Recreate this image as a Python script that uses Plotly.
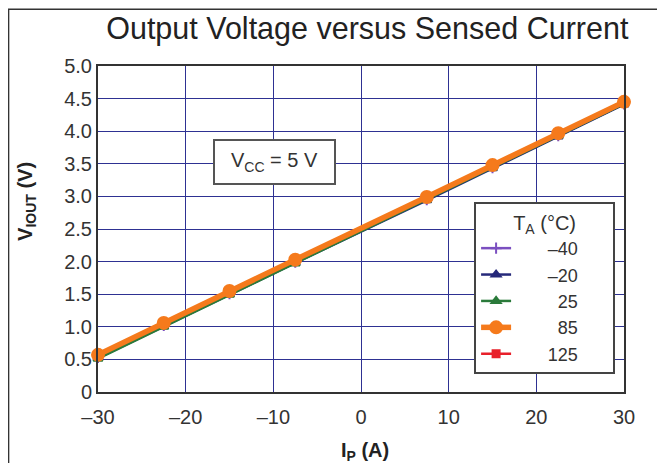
import plotly.graph_objects as go

current_a = [-30, -22.5, -15, -7.5, 7.5, 15, 22.5, 30]
temps_label = ["–40", "–20", "\u200725", "\u200785", "125"]
v_m40 = [0.53, 1.02, 1.51, 1.99, 2.95, 3.44, 3.93, 4.42]
v_m20 = [0.52, 1.01, 1.50, 1.98, 2.94, 3.43, 3.92, 4.41]
v_25 = [0.51, 1.00, 1.49, 1.97, 2.95, 3.44, 3.93, 4.42]
v_85 = [0.57, 1.06, 1.55, 2.03, 2.99, 3.48, 3.97, 4.45]
v_125 = [0.57, 1.06, 1.55, 2.03, 2.99, 3.48, 3.97, 4.45]

x_ticks = [-30, -20, -10, 0, 10, 20, 30]
x_ticktext = ["–30", "–20", "–10", "0", "10", "20", "30"]
y_ticks = [0, 0.5, 1, 1.5, 2, 2.5, 3, 3.5, 4, 4.5, 5]
y_ticktext = ["0", "0.5", "1.0", "1.5", "2.0", "2.5", "3.0", "3.5", "4.0", "4.5", "5.0"]

FONT = "Liberation Sans, Arial, sans-serif"
TXT = "#333333"
PAD_L = "\u2007\u2007\u2007\u200a"
PAD_R = "\u2007\u2007\u2007"

fig = go.Figure()

series = [
    # (values, label, color, symbol, size, width, rank)
    (v_125, temps_label[4], "#e8202a", "square", 7, 2.5, 5),
    (v_m40, temps_label[0], "#7b4fc0", "cross-thin", 8, 2.5, 1),
    (v_m20, temps_label[1], "#26297a", "triangle-up", 8, 2.5, 2),
    (v_25, temps_label[2], "#2a7a3a", "triangle-up", 8, 2.5, 3),
    (v_85, temps_label[3], "#f57a1c", "circle", 12, 5.5, 4),
]
for vals, label, color, sym, size, width, rank in series:
    fig.add_trace(go.Scatter(
        x=current_a, y=vals, name=PAD_L + label + PAD_R, mode="lines+markers",
        line=dict(color=color, width=width),
        marker=dict(symbol=sym, size=size, color=color,
                    line=dict(color=color, width=2)),
        cliponaxis=False, legendrank=rank,
    ))

fig.add_annotation(
    x=-9.87, y=3.53, xref="x", yref="y",
    text="V<sub>CC</sub> = 5 V", showarrow=False,
    font=dict(family=FONT, size=20, color=TXT),
    bordercolor="#555555", borderwidth=2, borderpad=0,
    bgcolor="white", width=119, height=42,
)

# axis titles
fig.add_annotation(
    x=0.508, y=-0.181, xref="paper", yref="paper",
    xanchor="center", yanchor="middle",
    text="<b>I<sub>P</sub> (A)</b>", showarrow=False,
    font=dict(family=FONT, size=20, color="#222222"),
)
fig.add_annotation(
    x=-0.135, y=0.586, xref="paper", yref="paper",
    xanchor="center", yanchor="middle",
    text="<b>V<sub>IOUT</sub> (V)</b>", showarrow=False, textangle=-90,
    font=dict(family=FONT, size=20, color="#222222"),
)

# outer frame
fig.add_shape(type="rect", xref="paper", yref="paper",
              x0=-0.170, y0=-0.235, x1=1.09, y1=1.174,
              line=dict(color="#333333", width=1.5), layer="below")

fig.update_layout(
    width=665, height=463,
    margin=dict(l=90, r=49, t=58, b=79),
    paper_bgcolor="white", plot_bgcolor="white",
    title=dict(text="Output Voltage versus Sensed Current",
               x=0.512, xanchor="center", y=0.957, yanchor="middle",
               xref="paper", yref="container",
               font=dict(family=FONT, size=30.5, color="#222222")),
    font=dict(family=FONT, size=20, color=TXT),
    showlegend=True,
    legend=dict(
        x=0.715, y=0.583, xanchor="left", yanchor="top",
        bgcolor="white", bordercolor="#444444", borderwidth=2,
        title=dict(text="T<sub>A</sub> (°C)", side="top center",
                   font=dict(family=FONT, size=20, color=TXT)),
        font=dict(family=FONT, size=18, color=TXT),
        itemwidth=30, tracegroupgap=0,
    ),
    xaxis=dict(
        range=[-30, 30], tickvals=x_ticks, ticktext=x_ticktext,
        showgrid=True, gridcolor="#2e3192", gridwidth=1.4,
        zeroline=False, showline=True, linecolor="#333333", linewidth=2,
        mirror=True, ticks="", tickfont=dict(size=20, color=TXT),
        ticklabelstandoff=6,
    ),
    yaxis=dict(
        range=[0, 5], tickvals=y_ticks, ticktext=y_ticktext,
        showgrid=True, gridcolor="#2e3192", gridwidth=1.4,
        zeroline=False, showline=True, linecolor="#333333", linewidth=2,
        mirror=True, ticks="", tickfont=dict(size=20, color=TXT),
    ),
)

fig.write_html("out.html")
